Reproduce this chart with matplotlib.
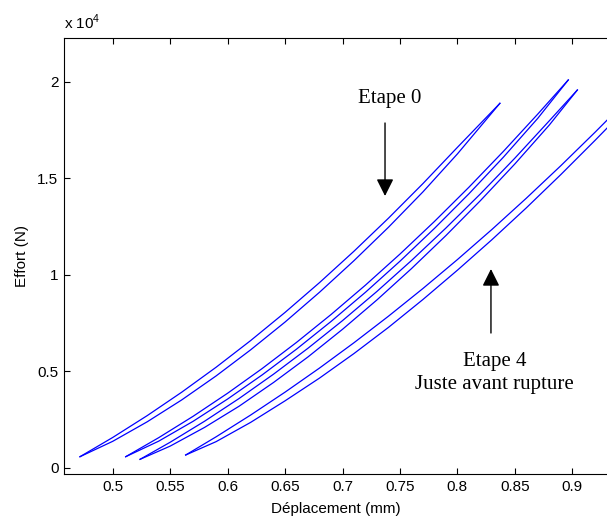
import matplotlib
matplotlib.use("Agg")
import matplotlib.pyplot as plt
from matplotlib.ticker import FuncFormatter

plt.rcParams["font.family"] = ["Liberation Sans", "DejaVu Sans"]
plt.rcParams["mathtext.fontset"] = "custom"
plt.rcParams["mathtext.rm"] = "Liberation Sans"

# loops: displacement (mm) and effort (N), two branches each
loop1_x = [0.4715, 0.50, 0.53, 0.56, 0.59, 0.62, 0.65, 0.68, 0.71, 0.74, 0.77, 0.80, 0.837]
loop1_up = [570, 1567, 2698, 3910, 5206, 6585, 8047, 9591, 11218, 12928, 14721, 16598, 18880]
loop1_lo = [570, 1367, 2378, 3510, 4756, 6105, 7547, 9091, 10728, 12458, 14291, 16258, 18880]

loop2_x = [0.5113, 0.54, 0.57, 0.60, 0.63, 0.66, 0.69, 0.72, 0.75, 0.78, 0.81, 0.84, 0.87, 0.8965]
loop2_up = [570, 1555, 2665, 3859, 5135, 6494, 7936, 9461, 11068, 12758, 14531, 16387, 18326, 20090]
loop2_lo = [570, 1375, 2405, 3559, 4805, 6144, 7576, 9091, 10698, 12398, 14191, 16087, 18106, 20090]

loop3_x = [0.5238, 0.55, 0.58, 0.61, 0.64, 0.67, 0.70, 0.73, 0.76, 0.79, 0.82, 0.85, 0.88, 0.9044]
loop3_up = [435, 1319, 2410, 3586, 4847, 6192, 7621, 9135, 10734, 12418, 14186, 16038, 17975, 19570]
loop3_lo = [435, 1119, 2090, 3186, 4417, 5742, 7171, 8695, 10314, 12028, 13836, 15738, 17755, 19570]

loop4_x = [0.5635, 0.59, 0.62, 0.65, 0.68, 0.71, 0.74, 0.77, 0.80, 0.83, 0.86, 0.89, 0.92, 0.94]
loop4_up = [658, 1601, 2727, 3915, 5164, 6476, 7850, 9285, 10783, 12342, 13964, 15647, 17393, 18590]
loop4_lo = [658, 1351, 2347, 3465, 4644, 5916, 7270, 8715, 10233, 11812, 13464, 15187, 16973, 18190]

loops = [
    (loop1_x, loop1_up, loop1_lo),
    (loop2_x, loop2_up, loop2_lo),
    (loop3_x, loop3_up, loop3_lo),
    (loop4_x, loop4_up, loop4_lo),
]

x_ticks = [0.5, 0.55, 0.6, 0.65, 0.7, 0.75, 0.8, 0.85, 0.9]
y_ticks = [0, 5000, 10000, 15000, 20000]

fig = plt.figure(figsize=(6.07, 5.22), dpi=100)
ax = fig.add_axes([64 / 607, 48 / 522, 543 / 607, 436 / 522])

for xs, up, lo in loops:
    ax.plot(xs, lo, color="#0000ff", lw=0.9)
    ax.plot(xs, up, color="#0000ff", lw=0.9)

ax.set_xlim(0.4576, 0.9302)
ax.set_ylim(-326, 22264)
ax.set_xticks(x_ticks)
ax.set_xticklabels([f"{v:g}" for v in x_ticks])
ax.set_yticks(y_ticks)
ax.yaxis.set_major_formatter(FuncFormatter(lambda v, p: f"{v / 1e4:g}"))
ax.tick_params(direction="in", length=4, width=0.8, labelsize=11, pad=4,
               top=True, right=False)
ax.spines["right"].set_visible(False)
for s in ["left", "bottom", "top"]:
    ax.spines[s].set_linewidth(0.8)

ax.set_xlabel("Déplacement (mm)", fontsize=11, labelpad=6)
ax.set_ylabel("Effort (N)", fontsize=11, labelpad=6)
fig.text(64 / 607, 1 - 22 / 522, r"x 10$^{4}$", fontsize=11, va="center", ha="left")

serif = ["Liberation Serif", "DejaVu Serif"]
arrow = dict(arrowstyle="-|>", color="black", lw=1.0, mutation_scale=26,
             shrinkA=0, shrinkB=0)
ax.annotate("", xy=(0.737, 14077), xytext=(0.737, 17860), arrowprops=arrow)
ax.text(0.7413, 19155, "Etape 0", family=serif, fontsize=15, ha="center", va="center")
ax.annotate("", xy=(0.8292, 10295), xytext=(0.8292, 6979), arrowprops=arrow)
ax.text(0.8322, 4907, "Etape 4\nJuste avant rupture", family=serif, fontsize=15,
        ha="center", va="center", linespacing=1.3)

fig.savefig("out.png", dpi=100)
